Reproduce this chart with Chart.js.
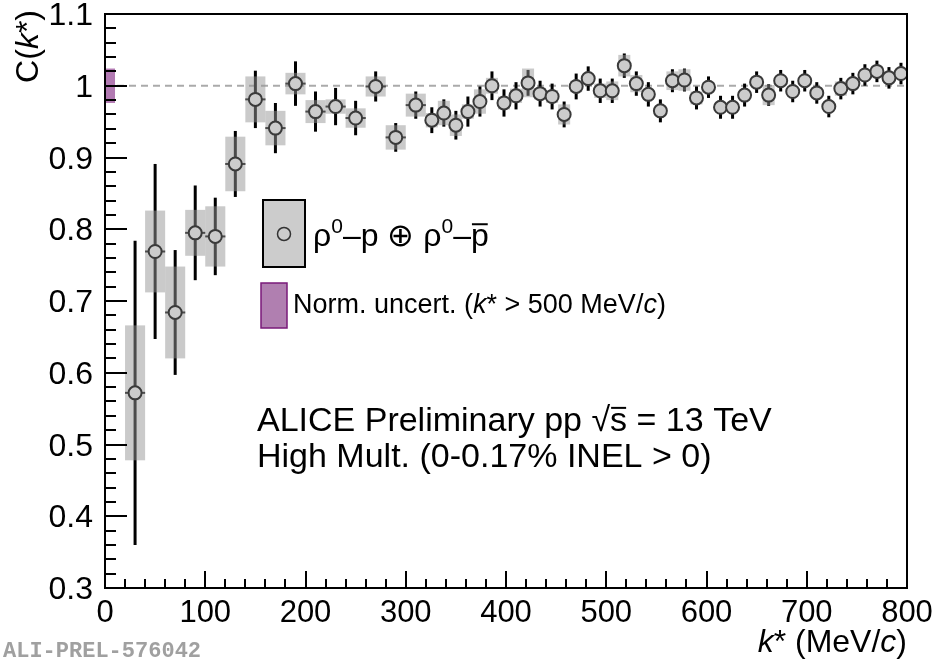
<!DOCTYPE html>
<html>
<head>
<meta charset="utf-8">
<script src="https://cdn.jsdelivr.net/npm/chart.js@4.4.0/dist/chart.umd.min.js"></script>
<style>
  html, body { margin: 0; padding: 0; background: #fff; }
  #wrap { width: 932px; height: 660px; }
</style>
</head>
<body>
<div id="wrap"><canvas id="cf" width="932" height="660"></canvas></div>
<script>
// k* bin centres (MeV/c): 20 MeV bins up to 320, then 12 MeV bins
const kStar = [30, 50, 70, 90, 110, 130, 150, 170, 190, 210, 230, 250, 270, 290, 310,
  326, 338, 350, 362, 374, 386, 398, 410, 422, 434, 446, 458, 470, 482, 494, 506, 518, 530,
  542, 554, 566, 578, 590, 602, 614, 626, 638, 650, 662, 674, 686, 698, 710, 722, 734, 746,
  758, 770, 782, 794];
const binHalf = [10, 10, 10, 10, 10, 10, 10, 10, 10, 10, 10, 10, 10, 10, 10,
  6, 6, 6, 6, 6, 6, 6, 6, 6, 6, 6, 6, 6, 6, 6, 6, 6, 6,
  6, 6, 6, 6, 6, 6, 6, 6, 6, 6, 6, 6, 6, 6, 6, 6, 6, 6,
  6, 6, 6, 6];
const cValues = [0.572, 0.769, 0.684, 0.795, 0.790, 0.891, 0.981, 0.941, 1.003, 0.964, 0.971, 0.955, 0.999, 0.928, 0.973,
  0.952, 0.962, 0.945, 0.964, 0.978, 1.000, 0.976, 0.986, 1.004, 0.989, 0.985, 0.960, 0.999, 1.010, 0.993, 0.993, 1.028, 1.003,
  0.988, 0.965, 1.007, 1.008, 0.983, 0.998, 0.970, 0.970, 0.987, 1.005, 0.987, 1.007, 0.992, 1.007, 0.990, 0.971, 0.996, 1.003,
  1.015, 1.020, 1.011, 1.017];
const statErr = [0.212, 0.122, 0.087, 0.066, 0.054, 0.046, 0.040, 0.035, 0.031, 0.028, 0.026, 0.024, 0.021, 0.020, 0.019,
  0.018, 0.019, 0.020, 0.021, 0.021, 0.020, 0.019, 0.019, 0.018, 0.018, 0.018, 0.018, 0.018, 0.017, 0.017, 0.017, 0.017, 0.017,
  0.017, 0.016, 0.016, 0.016, 0.016, 0.015, 0.016, 0.016, 0.016, 0.015, 0.015, 0.015, 0.015, 0.015, 0.015, 0.015, 0.015, 0.015,
  0.015, 0.015, 0.015, 0.015];
const systErr = [0.094, 0.057, 0.064, 0.032, 0.042, 0.038, 0.032, 0.024, 0.015, 0.016, 0.010, 0.0135, 0.014, 0.017, 0.016,
  0.010, 0.017, 0.015, 0.010, 0.017, 0.011, 0.009, 0.010, 0.020, 0.008, 0.009, 0.014, 0.008, 0.006, 0.010, 0.013, 0.015, 0.012,
  0.006, 0.007, 0.013, 0.015, 0.009, 0.007, 0.005, 0.005, 0.005, 0.005, 0.014, 0.006, 0.004, 0.004, 0.004, 0.004, 0.010, 0.006,
  0.005, 0.004, 0.006, 0.004];

// normalisation uncertainty band drawn at k* = 0..10
const normBand = [0, 10];
const normUnc = 0.024;

const xTicks = [0, 100, 200, 300, 400, 500, 600, 700, 800];
const yTicks = [0.3, 0.4, 0.5, 0.6, 0.7, 0.8, 0.9, 1, 1.1];

const FONT = "'Liberation Sans', Arial, Helvetica, sans-serif";

// draws a run of text pieces: {t, i: italic, sup: superscript, ol: overline}
function richText(ctx, x, y, parts, size, align) {
  const fontFor = p => (p.i ? 'italic ' : '') + (p.sup ? Math.round(size * 0.66) : size) + 'px ' + FONT;
  let total = 0;
  parts.forEach(p => { ctx.font = fontFor(p); p.w = ctx.measureText(p.t).width; total += p.w; });
  let cx = align === 'right' ? x - total : (align === 'center' ? x - total / 2 : x);
  ctx.textAlign = 'left';
  ctx.textBaseline = 'alphabetic';
  parts.forEach(p => {
    ctx.font = fontFor(p);
    const yy = p.sup ? y - size * 0.42 : y;
    ctx.fillText(p.t, cx, yy);
    if (p.ol) {
      ctx.save();
      ctx.strokeStyle = ctx.fillStyle;
      ctx.lineWidth = 2;
      ctx.beginPath();
      ctx.moveTo(cx + 1, y - size * 0.68);
      ctx.lineTo(cx + p.w - 1, y - size * 0.68);
      ctx.stroke();
      ctx.restore();
    }
    cx += p.w;
  });
}

const rootStyle = {
  id: 'rootStyle',
  beforeDatasetsDraw(chart) {
    const { ctx, chartArea: a } = chart;
    const xs = chart.scales.x, ys = chart.scales.y;
    ctx.save();
    ctx.beginPath();
    ctx.rect(a.left, a.top, a.right - a.left, a.bottom - a.top);
    ctx.clip();

    // reference line at C = 1
    ctx.strokeStyle = '#aaaaaa';
    ctx.lineWidth = 2;
    ctx.setLineDash([7, 5]);
    ctx.beginPath();
    ctx.moveTo(xs.getPixelForValue(0), ys.getPixelForValue(1));
    ctx.lineTo(xs.getPixelForValue(800), ys.getPixelForValue(1));
    ctx.stroke();
    ctx.setLineDash([]);

    // normalisation band
    ctx.fillStyle = '#b27ab2';
    const nx0 = xs.getPixelForValue(normBand[0]), nx1 = xs.getPixelForValue(normBand[1]);
    const ny0 = ys.getPixelForValue(1 + normUnc), ny1 = ys.getPixelForValue(1 - normUnc);
    ctx.fillRect(nx0, ny0, nx1 - nx0, ny1 - ny0);

    // statistical error bars
    ctx.strokeStyle = '#000';
    kStar.forEach((k, i) => {
      const px = xs.getPixelForValue(k);
      const py = ys.getPixelForValue(cValues[i]);
      ctx.lineWidth = 3;
      ctx.beginPath();
      ctx.moveTo(px, ys.getPixelForValue(cValues[i] - statErr[i]));
      ctx.lineTo(px, ys.getPixelForValue(cValues[i] + statErr[i]));
      ctx.stroke();
      ctx.lineWidth = 2;
      ctx.beginPath();
      ctx.moveTo(xs.getPixelForValue(k - binHalf[i]), py);
      ctx.lineTo(xs.getPixelForValue(k + binHalf[i]), py);
      ctx.stroke();
    });

    // systematic boxes (semi-transparent grey)
    ctx.fillStyle = 'rgba(150,150,150,0.5)';
    kStar.forEach((k, i) => {
      const x0 = xs.getPixelForValue(k - binHalf[i]);
      const x1 = xs.getPixelForValue(k + binHalf[i]);
      const y0 = ys.getPixelForValue(cValues[i] + systErr[i]);
      const y1 = ys.getPixelForValue(cValues[i] - systErr[i]);
      ctx.fillRect(x0, y0, x1 - x0, y1 - y0);
    });
    ctx.restore();
  },
  afterDraw(chart) {
    const { ctx, chartArea: a } = chart;
    const xs = chart.scales.x, ys = chart.scales.y;
    ctx.save();

    // frame
    ctx.strokeStyle = '#000';
    ctx.lineWidth = 2;
    ctx.strokeRect(a.left, a.top, a.right - a.left, a.bottom - a.top);

    // y ticks (inside), minor every 0.02
    ctx.lineWidth = 2;
    for (let j = 0; j <= 40; j++) {
      const v = 0.3 + j * 0.02;
      const py = Math.round(ys.getPixelForValue(v));
      const len = (j % 5 === 0) ? 22 : 11;
      ctx.beginPath();
      ctx.moveTo(a.left, py);
      ctx.lineTo(a.left + len, py);
      ctx.stroke();
    }
    // x ticks (inside), minor every 20
    for (let j = 0; j <= 40; j++) {
      const v = j * 20;
      const px = Math.round(xs.getPixelForValue(v));
      const len = (j % 5 === 0) ? 17 : 9;
      ctx.beginPath();
      ctx.moveTo(px, a.bottom);
      ctx.lineTo(px, a.bottom - len);
      ctx.stroke();
    }

    // tick labels
    ctx.fillStyle = '#000';
    ctx.font = '32px ' + FONT;
    ctx.textAlign = 'right';
    ctx.textBaseline = 'alphabetic';
    yTicks.forEach(v => {
      ctx.fillText(String(v), a.left - 12, ys.getPixelForValue(v) + 11);
    });
    ctx.font = '31px ' + FONT;
    ctx.textAlign = 'center';
    xTicks.forEach(v => {
      ctx.fillText(String(v), xs.getPixelForValue(v), a.bottom + 34);
    });

    // axis titles
    richText(ctx, a.right, 652, [{ t: 'k', i: true }, { t: '* (MeV/' }, { t: 'c', i: true }, { t: ')' }], 32, 'right');
    ctx.save();
    ctx.translate(38, 10);
    ctx.rotate(-Math.PI / 2);
    richText(ctx, 0, 0, [{ t: 'C(' }, { t: 'k', i: true }, { t: '*' }, { t: ')' }], 32, 'right');
    ctx.restore();

    // legend: data entry
    ctx.fillStyle = '#cccccc';
    ctx.fillRect(263, 200, 42, 67);
    ctx.strokeStyle = '#000';
    ctx.lineWidth = 2;
    ctx.strokeRect(263, 200, 42, 67);
    ctx.lineWidth = 1.5;
    ctx.strokeStyle = '#333';
    ctx.beginPath();
    ctx.arc(284, 234, 6.5, 0, Math.PI * 2);
    ctx.stroke();
    ctx.fillStyle = '#000';
    richText(ctx, 313, 246, [{ t: 'ρ' }, { t: '0', sup: true }, { t: '–p ⊕ ρ' }, { t: '0', sup: true }, { t: '–' }, { t: 'p', ol: true }], 32, 'left');

    // legend: normalisation entry
    ctx.fillStyle = '#b07fb0';
    ctx.fillRect(261, 283, 26, 45);
    ctx.strokeStyle = '#7a1a7a';
    ctx.lineWidth = 1.5;
    ctx.strokeRect(261, 283, 26, 45);
    ctx.fillStyle = '#000';
    richText(ctx, 293, 313, [{ t: 'Norm. uncert. (' }, { t: 'k', i: true }, { t: '* > 500 MeV/' }, { t: 'c', i: true }, { t: ')' }], 27, 'left');

    // collaboration text
    richText(ctx, 257, 431, [{ t: 'ALICE Preliminary pp ' }, { t: '√' }, { t: 's', ol: true }, { t: ' = 13 TeV' }], 34, 'left');
    richText(ctx, 257, 467, [{ t: 'High Mult. (0-0.17% INEL > 0)' }], 34, 'left');

    // figure id
    ctx.fillStyle = '#a0a0a0';
    ctx.font = 'bold 22px "Liberation Mono", "DejaVu Sans Mono", monospace';
    ctx.textAlign = 'left';
    ctx.fillText('ALI-PREL-576042', 3, 657);
    ctx.restore();
  }
};

const ctx = document.getElementById('cf').getContext('2d');
new Chart(ctx, {
  type: 'scatter',
  data: {
    datasets: [{
      label: 'rho0-p',
      data: kStar.map((k, i) => ({ x: k, y: cValues[i] })),
      pointRadius: 6.5,
      pointHoverRadius: 6.5,
      pointBackgroundColor: '#cccccc',
      pointBorderColor: '#3a3a3a',
      pointBorderWidth: 2,
      showLine: false
    }]
  },
  options: {
    responsive: false,
    animation: false,
    layout: { padding: { left: 105, right: 25, top: 14, bottom: 72 } },
    scales: {
      x: { type: 'linear', min: 0, max: 800, display: false },
      y: { type: 'linear', min: 0.3, max: 1.1, display: false }
    },
    plugins: {
      legend: { display: false },
      tooltip: { enabled: false }
    }
  },
  plugins: [rootStyle]
});
</script>
</body>
</html>
